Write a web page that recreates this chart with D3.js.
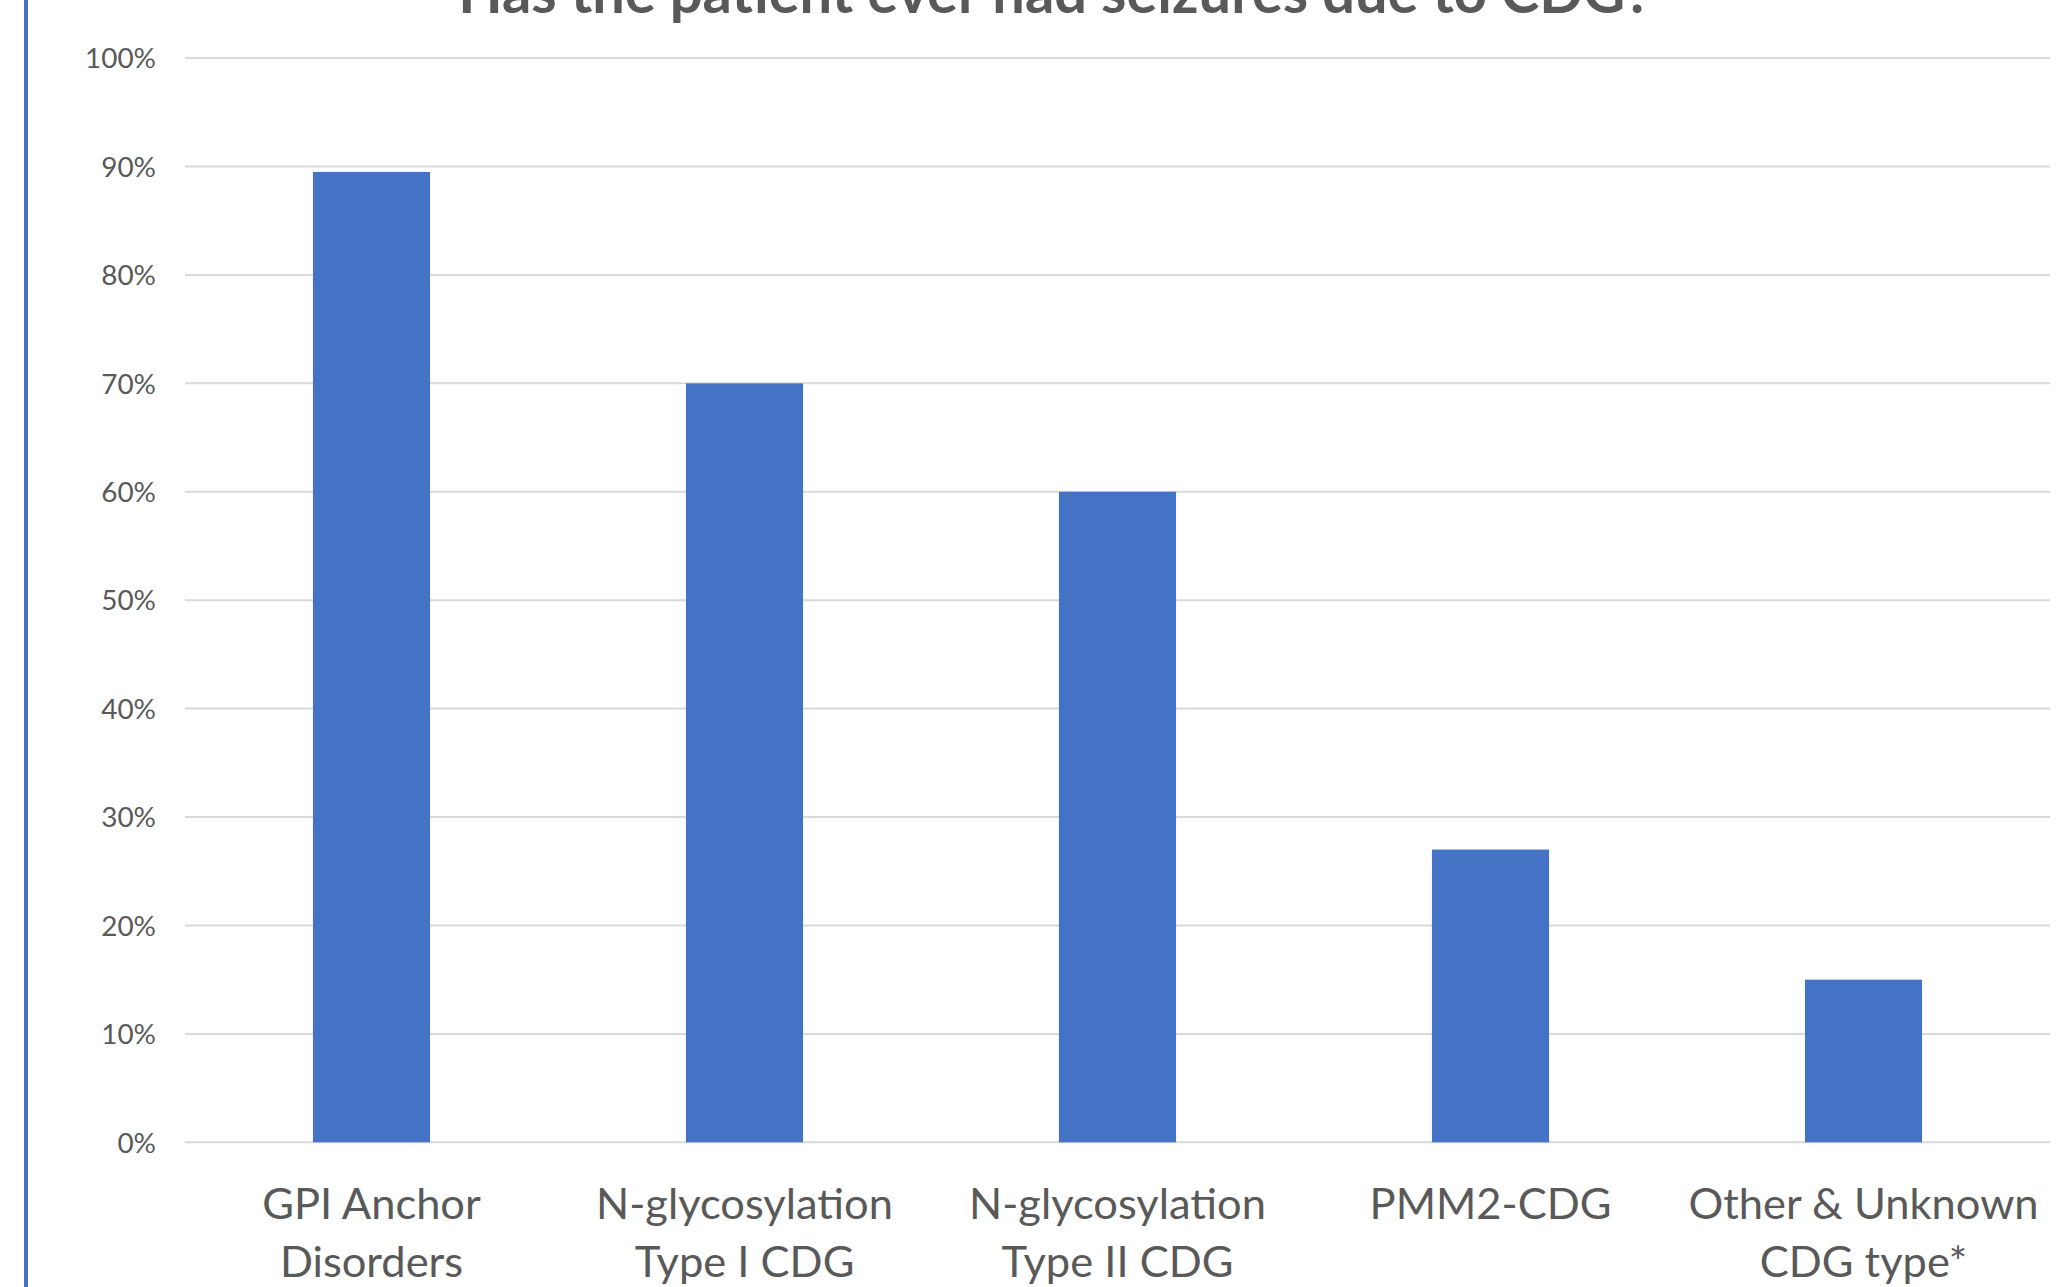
<!DOCTYPE html>
<html><head><meta charset="utf-8">
<script src="https://cdn.jsdelivr.net/npm/d3@7"></script>
<style>html,body{margin:0;padding:0;background:#fff;overflow:hidden}</style>
</head><body>
<script>
const categories = [["GPI Anchor","Disorders"],["N-glycosylation","Type I CDG"],["N-glycosylation","Type II CDG"],["PMM2-CDG"],["Other & Unknown","CDG type*"]];
const values = [89.5, 70, 60, 27, 15];
const yTicks = [0,10,20,30,40,50,60,70,80,90,100];
const titleText = "Has the patient ever had seizures due to CDG?";

const W = 2072, H = 1287;
const FONT = "Lato, 'Open Sans', sans-serif";
const svg = d3.select("body").append("svg").attr("width", W).attr("height", H);
svg.append("rect").attr("width", W).attr("height", H).attr("fill", "#fff");

// left accent line
svg.append("rect").attr("x", 24).attr("y", 0).attr("width", 4).attr("height", H).attr("fill", "#4472C4");

const x = d3.scaleBand().domain(d3.range(categories.length)).range([185, 2050]).paddingInner(0.686).paddingOuter(0.343);
const y = d3.scaleLinear().domain([0, 100]).range([1142.3, 58.1]);

function fitSize(text, weight, target) {
  const t = svg.append("text").attr("font-family", FONT).attr("font-weight", weight).attr("font-size", 100).text(text);
  const w = t.node().getComputedTextLength();
  t.remove();
  return 100 * target / w;
}

// gridlines
svg.append("g").selectAll("line").data(yTicks).join("line")
  .attr("x1", 185).attr("x2", 2050)
  .attr("y1", d => y(d)).attr("y2", d => y(d))
  .attr("stroke", "#d9d9d9").attr("stroke-width", 2);

// y axis labels
const tickSize = fitSize("100%", 400, 71);
const yAxis = d3.axisLeft(y).tickValues(yTicks).tickFormat(d => d + "%").tickSize(0).tickPadding(0);
const gy = svg.append("g").attr("transform", "translate(156,0)").call(yAxis);
gy.select(".domain").remove();
gy.selectAll("text").attr("font-family", FONT).attr("font-size", tickSize).attr("fill", "#595959").attr("dy", "0.35em");

// bars
svg.append("g").selectAll("rect").data(values).join("rect")
  .attr("x", (d, i) => x(i)).attr("width", x.bandwidth())
  .attr("y", d => y(d)).attr("height", d => y(0) - y(d))
  .attr("fill", "#4472C4");

// category labels
const catSize = fitSize("N-glycosylation", 400, 297);
const gx = svg.append("g");
categories.forEach((lines, i) => {
  const t = gx.append("text").attr("text-anchor", "middle").attr("font-family", FONT)
    .attr("font-size", catSize).attr("fill", "#595959");
  lines.forEach((ln, j) => {
    t.append("tspan").attr("x", x(i) + x.bandwidth() / 2).attr("y", 1204 + j * 58).attr("dy", "0.35em").text(ln);
  });
});

// title
const titleSize = fitSize(titleText, 700, 1194);
svg.append("text").attr("x", 1055).attr("y", 13).attr("text-anchor", "middle")
  .attr("font-family", FONT).attr("font-weight", 700).attr("font-size", titleSize)
  .attr("fill", "#595959").text(titleText);
</script>
</body></html>
